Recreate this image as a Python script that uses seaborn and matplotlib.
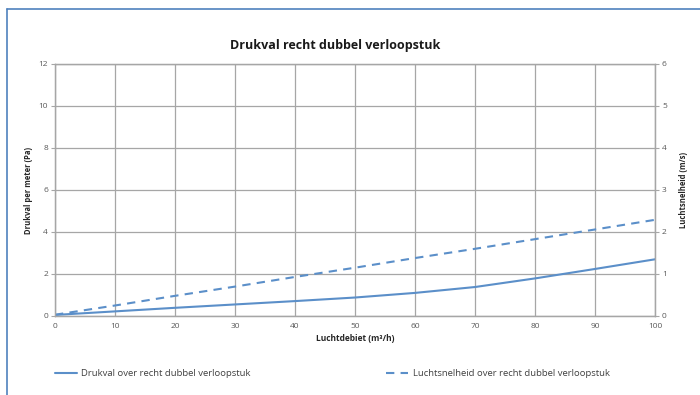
import matplotlib
matplotlib.use("Agg")
import matplotlib.pyplot as plt
import seaborn as sns
import pandas as pd
from matplotlib.lines import Line2D

debiet = [0, 10, 20, 30, 40, 50, 60, 70, 80, 90, 100]
drukval = [0.05, 0.22, 0.39, 0.55, 0.71, 0.88, 1.10, 1.38, 1.79, 2.24, 2.70]
snelheid = [0.03, 0.25, 0.48, 0.70, 0.93, 1.15, 1.38, 1.60, 1.83, 2.06, 2.29]
left_ticks = [0, 2, 4, 6, 8, 10, 12]
right_ticks = [0, 1, 2, 3, 4, 5, 6]
x_ticks = [0, 10, 20, 30, 40, 50, 60, 70, 80, 90, 100]

title = "Drukval recht dubbel verloopstuk"
xlabel = "Luchtdebiet (m³/h)"
ylabel_l = "Drukval per meter (Pa)"
ylabel_r = "Luchtsnelheid (m/s)"
lab1 = "Drukval over recht dubbel verloopstuk"
lab2 = "Luchtsnelheid over recht dubbel verloopstuk"

sns.set_theme(style="white")
plt.rcParams['font.family'] = ['Open Sans', 'DejaVu Sans']

df = pd.DataFrame({"debiet": debiet, "drukval": drukval, "snelheid": snelheid})

W, H = 700, 395
fig = plt.figure(figsize=(7, 3.95), dpi=100)
ax = fig.add_axes([55 / W, (H - 316) / H, 600 / W, 252 / H])
ax2 = ax.twinx()

color = "#5b8fc9"
grid_c = "#a6a6a6"
tick_c = "#595959"

sns.lineplot(data=df, x="debiet", y="drukval", ax=ax, color=color, lw=1.5)
sns.lineplot(data=df, x="debiet", y="snelheid", ax=ax2, color=color, lw=1.5,
             linestyle=(0, (4, 3)))

ax.set_xlim(0, 100)
ax.set_ylim(0, 12)
ax2.set_ylim(0, 6)
ax.set_xticks(x_ticks)
ax.set_yticks(left_ticks)
ax2.set_yticks(right_ticks)
ax.grid(True, color=grid_c, lw=0.9)
ax.set_axisbelow(True)
for a in (ax, ax2):
    for s in a.spines.values():
        s.set_color(grid_c)
        s.set_linewidth(0.9)
ax.tick_params(axis="both", labelsize=6, colors=tick_c, length=3, width=0.8,
               color=grid_c, pad=2)
ax2.tick_params(axis="y", labelsize=6, colors=tick_c, length=3, width=0.8,
                color=grid_c, pad=2)

ax.set_xlabel(xlabel, fontsize=6, fontweight="bold", color="#262626", labelpad=3)
ax.set_ylabel(ylabel_l, fontsize=5.5, fontweight="bold", color="#262626", labelpad=4)
ax2.set_ylabel(ylabel_r, fontsize=5.5, fontweight="bold", color="#262626", labelpad=9)

fig.text(335 / W, 1 - 46 / H, title, ha="center", va="center",
         fontsize=9, fontweight="bold", color="#1a1a1a")

# legend
ly = 1 - 373 / H
fig.add_artist(Line2D([55 / W, 77 / W], [ly, ly], color=color, lw=1.5))
fig.text(81 / W, ly, lab1, fontsize=6.8, va="center", color="#404040")
fig.add_artist(Line2D([386 / W, 408 / W], [ly, ly], color=color, lw=1.5,
                      linestyle=(0, (4, 3))))
fig.text(413 / W, ly, lab2, fontsize=6.8, va="center", color="#404040")

# frame border (top + left)
bc = "#4f81bd"
fig.add_artist(Line2D([7 / W, 1.0], [1 - 9 / H, 1 - 9 / H], color=bc, lw=1.2))
fig.add_artist(Line2D([7 / W, 7 / W], [0, 1 - 9 / H], color=bc, lw=1.2))

fig.savefig("out.png", dpi=100)
